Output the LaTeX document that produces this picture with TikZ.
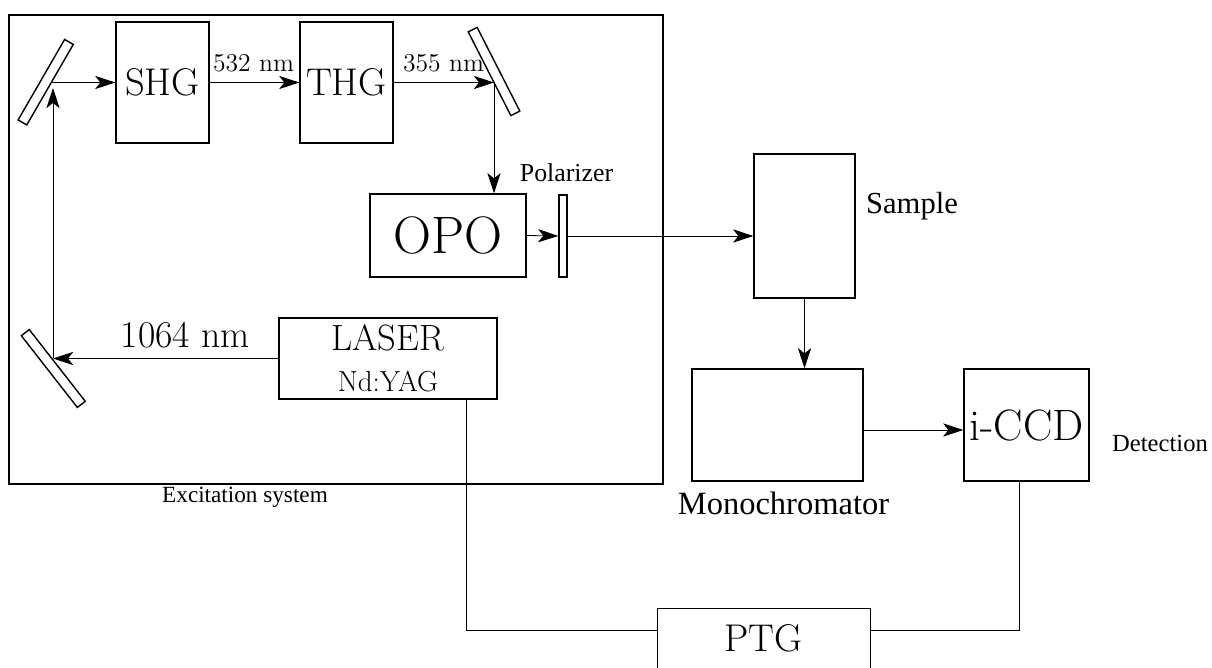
\documentclass[tikz,border=0pt]{standalone}
\usepackage{fontspec}
\newfontfamily\labfont{Liberation Serif}
\usetikzlibrary{arrows.meta,calc}
\tikzset{
  box/.style={draw, line width=0.8pt, inner sep=0pt},
  thinbox/.style={draw, line width=0.45pt, inner sep=0pt},
  mirror/.style={draw, line width=0.8pt, inner sep=0pt, minimum height=0.2cm},
  beam/.style={line width=0.45pt, -{Stealth[length=11.5pt,width=7.5pt,inset=3pt]}},
  wire/.style={line width=0.45pt},
  lab/.style={inner sep=0pt},
}
\begin{document}
\begin{tikzpicture}[x=0.02cm, y=-0.02cm]
\useasboundingbox (0,0) rectangle (1212,668);
\clip (0,0) rectangle (1212,668);
% excitation frame
\node[box, minimum width=13.08cm, minimum height=9.38cm] (exc) at (336,249.5) {};
\node[lab, font={\labfont\fontsize{13.2}{15}\selectfont}] (exclab) at (245,497) {Excitation system};
% mirrors
\node[mirror, minimum width=1.86cm, rotate=60] (m1) at (45.7,82.2) {};
\node[mirror, minimum width=1.88cm, rotate=-63] (m2) at (494,71.5) {};
\node[mirror, minimum width=1.82cm, rotate=-52] (m3) at (53.3,368.5) {};
\coordinate (m1out) at (51,82.5);
\coordinate (m1hit) at (53,88);
\coordinate (m2hit) at (494,82.5);
\coordinate (m3hit) at (53,358.5);
% boxes
\node[box, minimum width=1.86cm, minimum height=2.42cm, font=\fontsize{22}{24}\selectfont] (SHG) at (162.5,82.5) {SHG};
\node[box, minimum width=1.86cm, minimum height=2.42cm, font=\fontsize{22}{24}\selectfont] (THG) at (346.5,82.5) {THG};
\node[box, minimum width=3.12cm, minimum height=1.66cm, font=\fontsize{30}{32}\selectfont] (OPO) at (448,235.5) {OPO};
\node[box, minimum width=0.16cm, minimum height=1.64cm] (pol) at (563,236) {};
\node[lab, font={\labfont\fontsize{14.7}{17}\selectfont}] (pollab) at (566.5,173) {Polarizer};
\node[box, minimum width=4.36cm, minimum height=1.62cm, align=center, font=\fontsize{16.5}{23}\selectfont] (LASER) at (388,358.5) {{\fontsize{20.8}{23}\selectfont LASER}\\Nd:YAG};
\node[box, minimum width=2.02cm, minimum height=2.88cm] (Sample) at (804.5,226) {};
\node[lab, font={\labfont\fontsize{17.4}{20}\selectfont}] (samplab) at (912,206) {Sample};
\node[box, minimum width=3.42cm, minimum height=2.24cm] (Mono) at (777.5,425) {};
\node[lab, font={\labfont\fontsize{18.5}{21}\selectfont}] (monolab) at (783.5,503) {Monochromator};
\node[box, minimum width=2.5cm, minimum height=2.24cm, font=\fontsize{25}{27}\selectfont] (iCCD) at (1026.5,425) {i-CCD};
\node[lab, font={\labfont\fontsize{14}{17}\selectfont}] (detlab) at (1160,443) {Detection};
\node[thinbox, minimum width=4.26cm, minimum height=1.64cm, text depth=0.44cm, font=\fontsize{22}{24}\selectfont] (PTG) at (763.5,649) {PTG};
% wavelength labels
\node[inner sep=0pt, font=\fontsize{14.6}{16}\selectfont] (l532) at (253.5,63) {532 nm};
\node[inner sep=0pt, font=\fontsize{14.6}{16}\selectfont] (l355) at (443.5,63) {355 nm};
\node[inner sep=0pt, font=\fontsize{21.5}{23}\selectfont] (l1064) at (185.5,335) {1064 nm};
% beams
\draw[beam] (LASER.west) -- (m3hit);
\draw[beam] (m3hit) -- (m1hit);
\draw[beam] (m1out) -- (SHG.west);
\draw[beam] (SHG.east) -- (THG.west);
\draw[beam] (THG.east) -- (m2hit);
\draw[beam] (m2hit) -- (m2hit |- OPO.north);
\draw[beam] (OPO.east) -- (pol.west);
\draw[beam] (pol.east) -- (pol.east -| Sample.west);
\draw[beam] (Sample.south) -- (Sample.south |- Mono.north);
\draw[beam] ([yshift=-0.1cm]Mono.east) -- ([yshift=-0.1cm]iCCD.west);
% trigger wiring
\coordinate (ldrop) at (466,630);
\coordinate (cdrop) at (1019,630);
\draw[wire] (ldrop |- LASER.south) -- (ldrop) -- (ldrop -| PTG.west);
\draw[wire] (cdrop |- iCCD.south) -- (cdrop) -- (cdrop -| PTG.east);
\end{tikzpicture}
\end{document}
